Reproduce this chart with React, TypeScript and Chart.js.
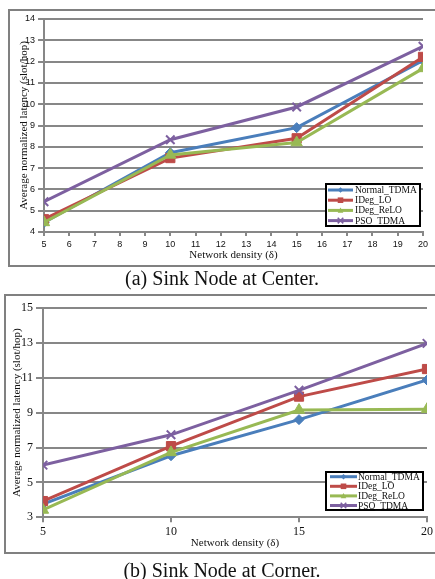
import React, { useEffect, useRef } from "react";
import { Chart, registerables } from "chart.js";

Chart.register(...registerables);

// ---------- data ----------
const seriesNames = ["Normal_TDMA", "IDeg_LO", "IDeg_ReLO", "PSO_TDMA"];

const densityCenter = [5, 10, 15, 20];
const centerNormalTDMA = [4.45, 7.72, 8.9, 12.05];
const centerIDegLO = [4.6, 7.47, 8.4, 12.22];
const centerIDegReLO = [4.45, 7.62, 8.2, 11.68];
const centerPSOTDMA = [5.42, 8.33, 9.87, 12.72];

const densityCorner = [5, 10, 15, 20];
const cornerNormalTDMA = [3.76, 6.53, 8.6, 10.87];
const cornerIDegLO = [3.93, 7.08, 9.92, 11.5];
const cornerIDegReLO = [3.42, 6.72, 9.15, 9.2];
const cornerPSOTDMA = [5.99, 7.73, 10.28, 12.97];

const xTicksCenter = [5, 6, 7, 8, 9, 10, 11, 12, 13, 14, 15, 16, 17, 18, 19, 20];
const yTicksCenter = [4, 5, 6, 7, 8, 9, 10, 11, 12, 13, 14];
const xTicksCorner = [5, 10, 15, 20];
const yTicksCorner = [3, 5, 7, 9, 11, 13, 15];

const xTitle = "Network density (δ)";
const yTitle = "Average normalized latency (slot/hop)";
const captionA = "(a) Sink Node at Center.";
const captionB = "(b) Sink Node at Corner.";

// ---------- styles ----------
const colors = ["#4A7EBB", "#BE4B48", "#98B954", "#7D60A0"];
const pointStyles = ["rectRot", "rect", "triangle", "crossRot"];
const pointRadii = [5, 6.5, 6.5, 6];
const gridColor = "#878787";
const serif = "'Liberation Serif', 'Times New Roman', serif";
const sans = "'Liberation Sans', Arial, sans-serif";

function drawMarker(ctx: CanvasRenderingContext2D, style: string, x: number, y: number, r: number, color: string) {
  ctx.save();
  ctx.fillStyle = color;
  ctx.strokeStyle = color;
  ctx.beginPath();
  if (style === "rectRot") {
    ctx.moveTo(x, y - r);
    ctx.lineTo(x + r, y);
    ctx.lineTo(x, y + r);
    ctx.lineTo(x - r, y);
    ctx.closePath();
    ctx.fill();
  } else if (style === "rect") {
    ctx.rect(x - r, y - r, 2 * r, 2 * r);
    ctx.fill();
  } else if (style === "triangle") {
    ctx.moveTo(x, y - r);
    ctx.lineTo(x + r, y + r * 0.8);
    ctx.lineTo(x - r, y + r * 0.8);
    ctx.closePath();
    ctx.fill();
  } else {
    ctx.lineWidth = 1.5;
    ctx.moveTo(x - r, y - r);
    ctx.lineTo(x + r, y + r);
    ctx.moveTo(x + r, y - r);
    ctx.lineTo(x - r, y + r);
    ctx.stroke();
  }
  ctx.restore();
}

const boxLegend = {
  id: "boxLegend",
  afterDraw(chart: any, _args: any, opts: any) {
    const ctx: CanvasRenderingContext2D = chart.ctx;
    ctx.save();
    ctx.fillStyle = "#ffffff";
    ctx.fillRect(opts.x, opts.y, opts.w, opts.h);
    ctx.lineWidth = 2;
    ctx.strokeStyle = "#000000";
    ctx.strokeRect(opts.x, opts.y, opts.w, opts.h);
    ctx.font = `${opts.fontSize}px ${serif}`;
    ctx.textBaseline = "middle";
    ctx.textAlign = "left";
    chart.data.datasets.forEach((ds: any, i: number) => {
      const cy = opts.firstRow + i * opts.rowStep;
      ctx.strokeStyle = ds.borderColor;
      ctx.lineWidth = 3;
      ctx.beginPath();
      ctx.moveTo(opts.lineX0, cy);
      ctx.lineTo(opts.lineX1, cy);
      ctx.stroke();
      drawMarker(ctx, pointStyles[i], (opts.lineX0 + opts.lineX1) / 2, cy, 2.8, ds.borderColor);
      ctx.fillStyle = "#111";
      ctx.fillText(ds.label, opts.textX, cy + 0.5);
    });
    ctx.restore();
  },
};

function makeDatasets(xs: number[], series: number[][]) {
  return series.map((vals, i) => ({
    label: seriesNames[i],
    data: xs.map((x, j) => ({ x, y: vals[j] })),
    borderColor: colors[i],
    backgroundColor: colors[i],
    borderWidth: 3,
    pointStyle: pointStyles[i],
    pointRadius: pointRadii[i],
    pointBorderWidth: pointStyles[i] === "crossRot" ? 2 : 1,
    pointBackgroundColor: colors[i],
    pointBorderColor: colors[i],
    tension: 0,
    order: 4 - i,
  }));
}

interface Spec {
  xs: number[];
  series: number[][];
  xTicks: number[];
  yTicks: number[];
  tickFont: any;
  xTickLen: number;
  xTickPad: number;
  yTickLen: number;
  yTickPad: number;
  yAxisWidth: number;
  xAxisHeight: number;
  yTitlePadTop: number;
  xTitlePadBottom: number;
  padding: any;
  legend: any;
}

function makeConfig(s: Spec): any {
  return {
    type: "line",
    data: { datasets: makeDatasets(s.xs, s.series) },
    plugins: [boxLegend],
    options: {
      responsive: false,
      animation: false,
      devicePixelRatio: 1,
      layout: { padding: s.padding },
      plugins: {
        legend: { display: false },
        tooltip: { enabled: false },
        boxLegend: s.legend,
      },
      scales: {
        x: {
          type: "linear",
          min: s.xTicks[0],
          max: s.xTicks[s.xTicks.length - 1],
          ticks: {
            stepSize: s.xTicks[1] - s.xTicks[0],
            autoSkip: false,
            maxRotation: 0,
            font: s.tickFont,
            color: "#111",
            padding: s.xTickPad,
          },
          grid: {
            drawOnChartArea: false,
            drawTicks: true,
            tickLength: s.xTickLen,
            color: gridColor,
            lineWidth: 2,
          },
          border: { display: true, color: gridColor, width: 2 },
          title: {
            display: true,
            text: xTitle,
            font: { family: serif, size: 11 },
            color: "#111",
            padding: { top: 0, bottom: s.xTitlePadBottom },
          },
          afterFit: (sc: any) => {
            sc.height = s.xAxisHeight;
          },
        },
        y: {
          min: s.yTicks[0],
          max: s.yTicks[s.yTicks.length - 1],
          ticks: {
            stepSize: s.yTicks[1] - s.yTicks[0],
            font: s.tickFont,
            color: "#111",
            padding: s.yTickPad,
          },
          grid: {
            drawTicks: true,
            tickLength: s.yTickLen,
            color: gridColor,
            lineWidth: 2,
          },
          border: { display: true, color: gridColor, width: 2 },
          title: {
            display: true,
            text: yTitle,
            font: { family: serif, size: 11 },
            color: "#111",
            padding: { top: s.yTitlePadTop, bottom: 0 },
          },
          afterFit: (sc: any) => {
            sc.width = s.yAxisWidth;
          },
        },
      },
    },
  };
}

function ChartCanvas({ spec, top, height }: { spec: Spec; top: number; height: number }) {
  const ref = useRef<HTMLCanvasElement>(null);
  useEffect(() => {
    const chart = new Chart(ref.current as HTMLCanvasElement, makeConfig(spec));
    return () => chart.destroy();
  }, []);
  return (
    <canvas
      ref={ref}
      width={435}
      height={height}
      style={{ position: "absolute", left: 0, top, width: 435, height, display: "block" }}
    />
  );
}

const specA: Spec = {
  xs: densityCenter,
  series: [centerNormalTDMA, centerIDegLO, centerIDegReLO, centerPSOTDMA],
  xTicks: xTicksCenter,
  yTicks: yTicksCenter,
  tickFont: { family: sans, size: 9 },
  xTickLen: 4,
  xTickPad: 3,
  yTickLen: 6,
  yTickPad: 3,
  yAxisWidth: 44,
  xAxisHeight: 32,
  yTitlePadTop: 17.5,
  xTitlePadBottom: 2.4,
  padding: { left: 0, right: 12, top: 19, bottom: 6 },
  legend: { x: 326, y: 184, w: 94, h: 42, firstRow: 190, rowStep: 10.2, lineX0: 328, lineX1: 353, textX: 355, fontSize: 9.5 },
};

const specB: Spec = {
  xs: densityCorner,
  series: [cornerNormalTDMA, cornerIDegLO, cornerIDegReLO, cornerPSOTDMA],
  xTicks: xTicksCorner,
  yTicks: yTicksCorner,
  tickFont: { family: serif, size: 12 },
  xTickLen: 5,
  xTickPad: 2,
  yTickLen: 7,
  yTickPad: 3,
  yAxisWidth: 43,
  xAxisHeight: 34,
  yTitlePadTop: 10.4,
  xTitlePadBottom: 1.7,
  padding: { left: 0, right: 8, top: 18, bottom: 27.7 },
  legend: { x: 326, y: 182, w: 97, h: 38, firstRow: 186.7, rowStep: 9.6, lineX0: 330, lineX1: 357, textX: 358, fontSize: 9.5 },
};

export default function App() {
  const box = (left: number, top: number, height: number): React.CSSProperties => ({
    position: "absolute",
    left,
    top,
    width: 600,
    height,
    boxSizing: "border-box",
    border: "2px solid #808080",
    borderRight: "none",
  });
  const caption = (top: number): React.CSSProperties => ({
    position: "absolute",
    left: 0,
    top,
    width: 444,
    textAlign: "center",
    fontFamily: serif,
    fontSize: 20,
    lineHeight: "20px",
    color: "#111",
    whiteSpace: "nowrap",
  });
  return (
    <div
      style={{
        position: "absolute",
        left: 0,
        top: 0,
        width: 435,
        height: 579,
        overflow: "hidden",
        background: "#fff",
      }}
    >
      <div style={box(8, 9, 258)} />
      <div style={box(4, 294, 260)} />
      <ChartCanvas spec={specA} top={0} height={270} />
      <ChartCanvas spec={specB} top={290} height={289} />
      <div style={caption(268)}>{captionA}</div>
      <div style={caption(560)}>{captionB}</div>
    </div>
  );
}
